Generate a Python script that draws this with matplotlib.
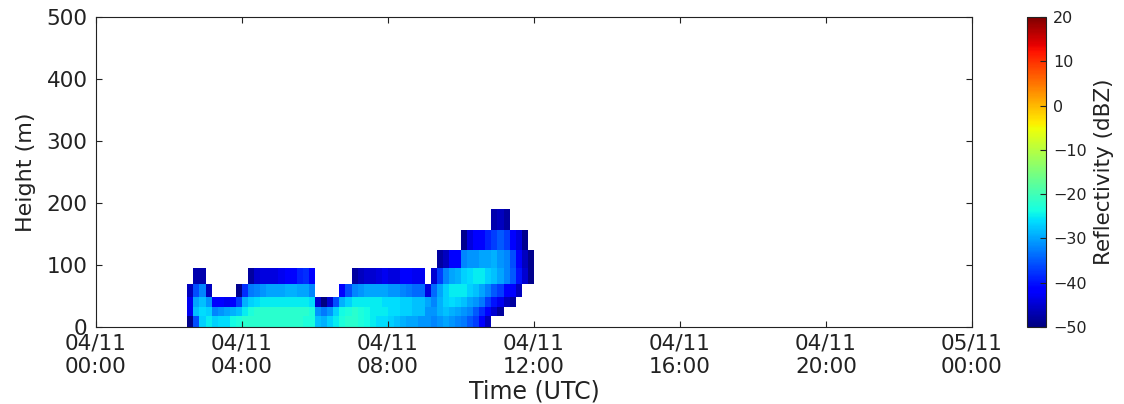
import numpy as np
import pandas as pd
import matplotlib
matplotlib.use("Agg")
import matplotlib.pyplot as plt
import matplotlib.dates as mdates

N = np.nan

# Range-gate edges (m)
height_edges = [0, 17, 32, 49, 70, 95, 124, 157, 190]

# Scan start times: 10-minute profiles from 02:30 to 12:00 UTC
time_edges = pd.date_range("2015-11-04 02:30", "2015-11-04 12:00", freq="10min")

# Reflectivity (dBZ) per range gate, one value per 10-minute profile
gate_0 = [-49, -36, -27, -25, -27, -26, -26, -24, -23, -22,
          -22, -22, -22, -22, -22, -22, -22, -22, -22, -23,
          -23, -28, -29, -27, -25, -23, -22, -22, -23, -24,
          -25, -26, -26, -27, -28, -29, -30, -30, -31, -31,
          -32, -31, -30, -31, -32, -33, -35, -37, -42, -46,
          N, N, N, N, N, N, N]
gate_1 = [-43, -28, -26, -27, -32, -31, -30, -29, -28, -25,
          -23, -22, -22, -22, -22, -22, -22, -22, -22, -22,
          -23, -31, -33, -31, -27, -24, -23, -22, -23, -24,
          -25, -25, -25, -26, -26, -27, -27, -28, -28, -31,
          -31, -29, -28, -29, -30, -31, -32, -35, -38, -42,
          -45, -48, N, N, N, N, N]
gate_2 = [-43, -30, -28, -31, -42, -42, -43, -42, -37, -29,
          -27, -26, -25, -25, -25, -25, -25, -25, -25, -25,
          -26, -45, -50, -45, -36, -29, -27, -25, -25, -25,
          -25, -25, -26, -26, -26, -27, -27, -28, -28, -30,
          -32, -29, -27, -26, -27, -28, -30, -31, -33, -37,
          -40, -43, -46, -48, N, N, N]
gate_3 = [-46, -36, -32, -46, N, N, N, N, -49, -38,
          -33, -32, -31, -30, -30, -30, -29, -29, -30, -30,
          -32, N, N, N, N, -42, -36, -32, -31, -30,
          -30, -30, -30, -31, -31, -32, -33, -34, -34, -44,
          -34, -30, -27, -25, -25, -25, -27, -28, -30, -32,
          -35, -37, -42, -42, -46, N, N]
gate_4 = [N, -47, -47, N, N, N, N, N, N, N,
          -48, -45, -44, -44, -44, -43, -42, -41, -39, -38,
          -42, N, N, N, N, N, N, -48, -46, -45,
          -45, -44, -43, -44, -44, -42, -42, -43, -43, N,
          -45, -37, -32, -30, -29, -27, -26, -25, -25, -27,
          -28, -30, -32, -35, -40, -45, -49]
gate_5 = [N] * 41 + [-48, -46, -42, -42, -32, -31, -31, -30, -30, -29,
                     -31, -32, -36, -42, -46, -49]
gate_6 = [N] * 45 + [-49, -44, -42, -41, -39, -37, -35, -37, -42, -44, -49] + [N]
gate_7 = [N] * 50 + [-47, -46, -48] + [N] * 4

refl = np.ma.masked_invalid(np.array(
    [gate_0, gate_1, gate_2, gate_3, gate_4, gate_5, gate_6, gate_7], dtype=float))

plt.rcParams["font.family"] = ["DejaVu Sans"]
TXT = "#222222"

fig = plt.figure(figsize=(11.24, 4.04), dpi=100)
ax = fig.add_axes([96 / 1124, 77 / 404, 876 / 1124, 310 / 404])
cax = fig.add_axes([1027 / 1124, 77 / 404, 19 / 1124, 310 / 404])

x = mdates.date2num(time_edges.to_pydatetime())
mesh = ax.pcolormesh(x, height_edges, refl, cmap="jet", vmin=-50, vmax=20)

ax.set_xlim(mdates.date2num(pd.Timestamp("2015-11-04 00:00")),
            mdates.date2num(pd.Timestamp("2015-11-05 00:00")))
ax.set_ylim(0, 500)
ax.set_yticks([0, 100, 200, 300, 400, 500])
ax.xaxis.set_major_locator(mdates.HourLocator(byhour=range(0, 24, 4)))
ax.xaxis.set_major_formatter(mdates.DateFormatter("%d/%m\n%H:%M"))

ax.tick_params(direction="in", top=True, right=True, labelsize=15.5,
               length=4, width=0.8, colors=TXT)
ax.tick_params(axis="x", pad=5)
ax.tick_params(axis="y", pad=6)
for s in ax.spines.values():
    s.set_color(TXT)
ax.set_xlabel("Time (UTC)", fontsize=17, color=TXT, labelpad=2)
ax.set_ylabel("Height (m)", fontsize=16, color=TXT, labelpad=8)

cb = fig.colorbar(mesh, cax=cax, ticks=np.arange(-50, 21, 10))
cb.ax.tick_params(direction="in", labelsize=11.5, length=4, colors=TXT, pad=5)
cb.outline.set_edgecolor(TXT)
cb.set_label("Reflectivity (dBZ)", fontsize=15.5, color=TXT, labelpad=5)

fig.savefig("out.png", dpi=100)
